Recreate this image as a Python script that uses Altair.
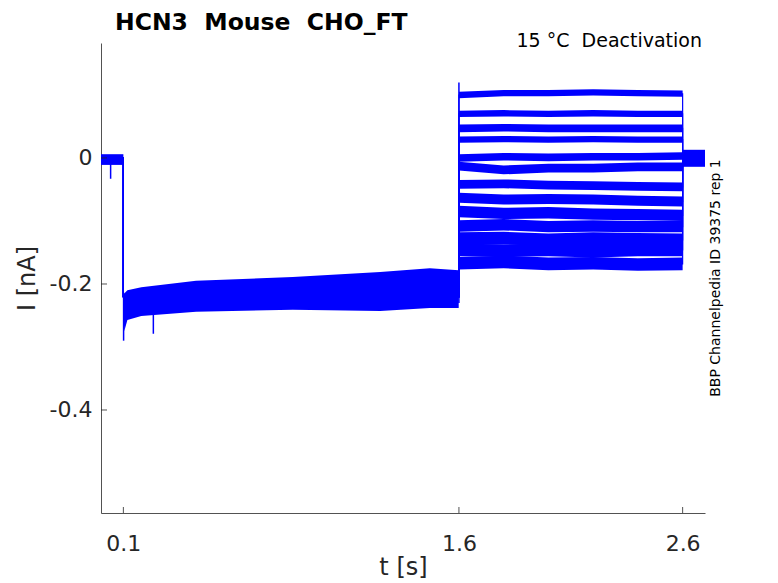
import altair as alt
import pandas as pd

# ---------------- data ----------------
# deactivation step traces (13 sweeps), level in nA at these times
deact_t = [1.6, 1.8, 2.0, 2.2, 2.4, 2.6]
deact_levels = [
    [0.100, 0.103, 0.103, 0.104, 0.103, 0.102],
    [0.070, 0.071, 0.070, 0.071, 0.070, 0.070],
    [0.047, 0.048, 0.047, 0.047, 0.047, 0.047],
    [0.029, 0.030, 0.029, 0.030, 0.029, 0.029],
    [0.000, 0.002, 0.001, 0.002, 0.002, 0.003],
    [-0.013, -0.019, -0.016, -0.016, -0.014, -0.014],
    [-0.042, -0.041, -0.043, -0.044, -0.045, -0.046],
    [-0.063, -0.066, -0.065, -0.066, -0.068, -0.069],
    [-0.085, -0.088, -0.087, -0.089, -0.090, -0.091],
    [-0.108, -0.106, -0.109, -0.108, -0.109, -0.109],
    [-0.128, -0.127, -0.130, -0.128, -0.129, -0.130],
    [-0.146, -0.147, -0.146, -0.148, -0.146, -0.146],
    [-0.167, -0.165, -0.168, -0.167, -0.169, -0.168],
]
# half-width of the noise band of each deactivation trace (nA)
deact_noise = [0.005, 0.005, 0.006, 0.005, 0.006, 0.007, 0.007,
               0.008, 0.009, 0.009, 0.010, 0.010, 0.010]
# activation step (all sweeps overlap): envelope of the noisy band
act_t = [0.101, 0.104, 0.118, 0.18, 0.425, 0.857, 1.248, 1.47, 1.599]
act_top = [-0.205, -0.215, -0.210, -0.205, -0.195, -0.189, -0.181, -0.175, -0.178]
act_bot = [-0.250, -0.275, -0.257, -0.251, -0.244, -0.241, -0.243, -0.238, -0.238]
act_level = -0.22
# holding before and after the protocol
hold_t = [0.0, 0.1]
hold_top = [0.006, 0.006]
hold_bot = [-0.011, -0.011]
tail_t = [2.6, 2.7]
tail_top = [0.013, 0.013]
tail_bot = [-0.014, -0.014]
# brief transients (time, low, high)
spike_t = [0.043, 0.101, 0.234, 1.6]
spike_lo = [-0.033, -0.29, -0.279, -0.23]
spike_hi = [0.0, -0.22, -0.24, 0.12]
# axes
x_ticks = [0.1, 1.6, 2.6]
y_ticks = [0, -0.2, -0.4]
x_domain = [0.0, 2.7]
y_domain = [-0.5635, 0.1825]

NB = "\u00a0"
title_text = "HCN3 " + NB + "Mouse " + NB + "CHO_FT"
subtitle_text = "15 °C " + NB + "Deactivation"
side_text = "BBP Channelpedia ID 39375 rep 1"

BLUE = "#0000ff"
FONT = "DejaVu Sans"
AX = "#262626"
W, H = 604, 470

# ---------------- tables ----------------
band_rows = []
for t, lo, hi in zip(hold_t, hold_bot, hold_top):
    band_rows.append({"seg": "hold", "t": t, "lo": lo, "hi": hi})
for t, lo, hi in zip(act_t, act_bot, act_top):
    band_rows.append({"seg": "act", "t": t, "lo": lo, "hi": hi})
for t, lo, hi in zip(tail_t, tail_bot, tail_top):
    band_rows.append({"seg": "tail", "t": t, "lo": lo, "hi": hi})
for i, (lev, nz) in enumerate(zip(deact_levels, deact_noise)):
    for t, v in zip(deact_t, lev):
        band_rows.append({"seg": f"d{i}", "t": t, "lo": v - nz, "hi": v + nz})
bands = pd.DataFrame(band_rows)

line_rows = []
for i, lev in enumerate(deact_levels):
    pts = [(0.0, 0.0), (0.1, 0.0), (0.1, act_level), (1.6, act_level)]
    pts += list(zip(deact_t, lev))
    pts += [(2.6, 0.0), (2.7, 0.0)]
    for k, (t, v) in enumerate(pts):
        line_rows.append({"trace": i, "k": k, "t": t, "v": v})
lines = pd.DataFrame(line_rows)

spikes = pd.DataFrame({"t": spike_t, "lo": spike_lo, "hi": spike_hi})

xs = alt.Scale(domain=x_domain, nice=False, zero=False)
ys = alt.Scale(domain=y_domain, nice=False, zero=False)

x_axis = alt.Axis(values=x_ticks, labelExpr="'' + datum.value", tickSize=0,
                  grid=False, labelFontSize=22, labelPadding=20,
                  labelColor=AX, domainColor=AX, title="t [s]",
                  titleFontSize=24, titleFontWeight="normal", titleColor=AX,
                  titleX=W / 2, titleY=54, titleBaseline="middle",
                  labelFont=FONT, titleFont=FONT)
y_axis = alt.Axis(values=y_ticks, labelExpr="'' + datum.value", tickSize=0,
                  grid=False, labelFontSize=22, labelPadding=9,
                  labelColor=AX, domainColor=AX, title="I [nA]",
                  titleFontSize=24, titleFontWeight="normal", titleColor=AX,
                  titleX=-74, titleY=235, titleAngle=270,
                  titleAlign="center", titleBaseline="middle",
                  labelFont=FONT, titleFont=FONT)

band_layer = alt.Chart(bands).mark_area(color=BLUE, opacity=1).encode(
    x=alt.X("t:Q", scale=xs, axis=x_axis),
    y=alt.Y("lo:Q", scale=ys, axis=y_axis),
    y2="hi:Q",
    detail="seg:N",
)

line_layer = alt.Chart(lines).mark_line(color=BLUE, strokeWidth=1.2).encode(
    x=alt.X("t:Q", scale=xs),
    y=alt.Y("v:Q", scale=ys),
    detail="trace:N",
    order="k:Q",
)

spike_layer = alt.Chart(spikes).mark_rule(color=BLUE, strokeWidth=1.5).encode(
    x=alt.X("t:Q", scale=xs),
    y=alt.Y("lo:Q", scale=ys),
    y2="hi:Q",
)

xtick_layer = alt.Chart(pd.DataFrame({"t": x_ticks})).mark_rule(
    color=AX, strokeWidth=0.8).encode(
    x=alt.X("t:Q", scale=xs), y=alt.value(H), y2=alt.value(H - 6))

ytick_layer = alt.Chart(pd.DataFrame({"v": y_ticks})).mark_rule(
    color=AX, strokeWidth=0.8).encode(
    y=alt.Y("v:Q", scale=ys), x=alt.value(0), x2=alt.value(6))

title_layer = alt.Chart(pd.DataFrame({"s": [title_text]})).mark_text(
    align="left", baseline="alphabetic", fontSize=23.5, font=FONT,
    fontWeight="bold", color="black").encode(
    x=alt.value(14), y=alt.value(-13), text="s:N")

sub_layer = alt.Chart(pd.DataFrame({"s": [subtitle_text]})).mark_text(
    align="right", baseline="alphabetic", fontSize=19, font=FONT,
    color="black").encode(x=alt.value(601), y=alt.value(4), text="s:N")

side_layer = alt.Chart(pd.DataFrame({"s": [side_text]})).mark_text(
    align="center", baseline="middle", fontSize=14, font=FONT,
    color="black", angle=270).encode(x=alt.value(615), y=alt.value(235),
                                     text="s:N")

chart = alt.layer(
    band_layer, line_layer, spike_layer, xtick_layer, ytick_layer,
    title_layer, sub_layer, side_layer,
).properties(
    width=W, height=H,
    autosize=alt.AutoSizeParams(type="none"),
    padding={"left": 93, "top": 35, "right": 60, "bottom": 68},
).configure_view(stroke=None).configure_axis(domainWidth=0.8)

chart.save("out.html", embed_options={"renderer": "svg", "actions": False})
